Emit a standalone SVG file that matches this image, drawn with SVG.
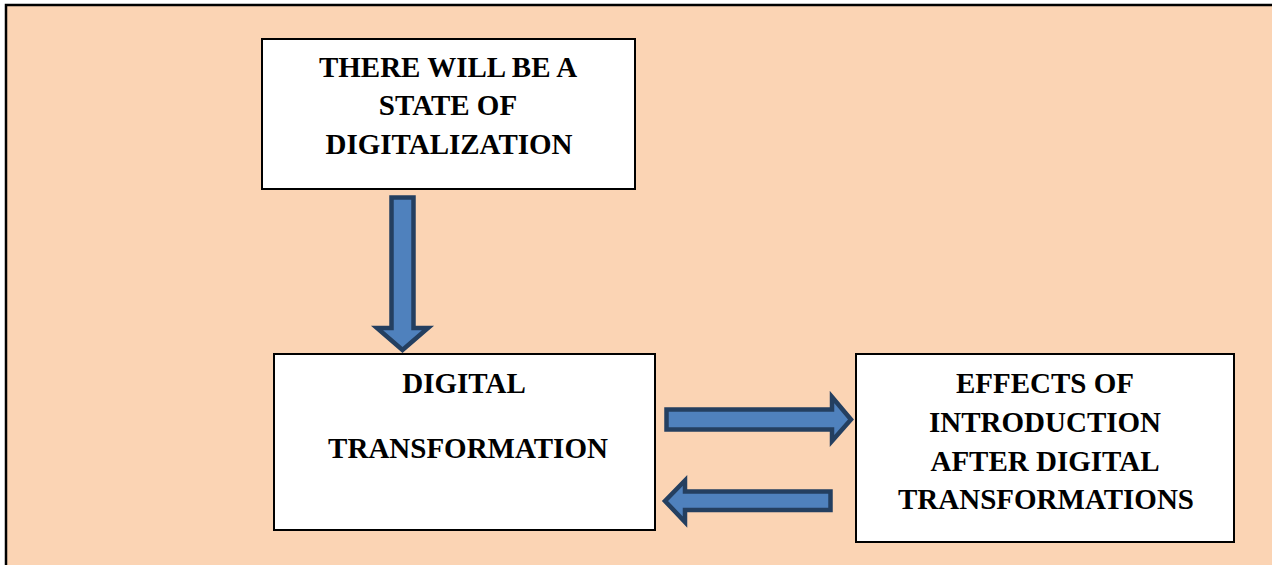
<svg xmlns="http://www.w3.org/2000/svg" width="1272" height="565" viewBox="0 0 1272 565">
  <style>
    .box { fill: #ffffff; stroke: #000000; stroke-width: 2; }
    .lbl { font-family: "Liberation Serif", "Times New Roman", serif; font-weight: bold; font-size: 29px; fill: #000000; text-anchor: middle; }
    .arrow { fill: #4F81BD; stroke: #243F60; stroke-width: 4.5; stroke-linejoin: miter; }
  </style>
  <rect x="0" y="0" width="1272" height="565" fill="#ffffff"/>
  <rect id="frame" x="6" y="5" width="1275" height="570" fill="#FBD4B4" stroke="#000000" stroke-width="2.5"/>

  <g id="node-state">
    <rect class="box" x="262" y="39" width="373" height="150"/>
    <text class="lbl" x="448" y="77">THERE WILL BE A</text>
    <text class="lbl" x="448" y="115">STATE OF</text>
    <text class="lbl" x="449" y="154">DIGITALIZATION</text>
  </g>

  <g id="node-transformation">
    <rect class="box" x="274" y="354" width="381" height="176"/>
    <text class="lbl" x="464" y="393">DIGITAL</text>
    <text class="lbl" x="468" y="458">TRANSFORMATION</text>
  </g>

  <g id="node-effects">
    <rect class="box" x="856" y="354" width="378" height="188"/>
    <text class="lbl" x="1045" y="393">EFFECTS OF</text>
    <text class="lbl" x="1045" y="432">INTRODUCTION</text>
    <text class="lbl" x="1045" y="471">AFTER DIGITAL</text>
    <text class="lbl" x="1046" y="509">TRANSFORMATIONS</text>
  </g>

  <g id="connectors">
    <polygon class="arrow" points="391.5,197.5 413.5,197.5 413.5,328 428,328 402.5,350 377,328 391.5,328"/>
    <polygon class="arrow" points="666.5,409.5 832,409.5 832,397 851,419.5 832,441 832,429.5 666.5,429.5"/>
    <polygon class="arrow" points="830.5,491.5 685,491.5 685,480.5 665,501 685,522 685,510 830.5,510"/>
  </g>
</svg>
